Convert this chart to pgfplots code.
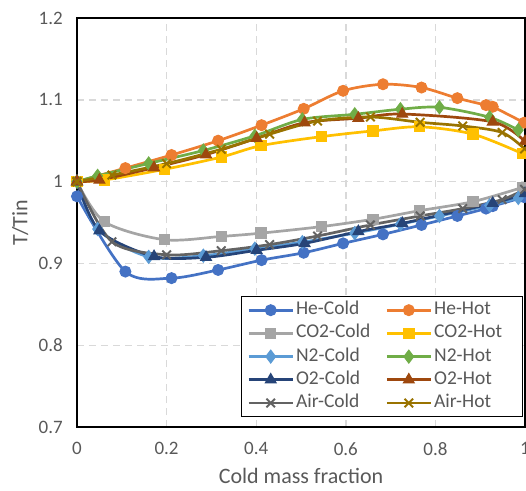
\documentclass[border=0pt]{standalone}
\usepackage{pgfplots}
\pgfplotsset{compat=1.18}
\usepackage{fontspec}
\setmainfont{Carlito}
\definecolor{heC}{HTML}{4472C4}
\definecolor{heH}{HTML}{ED7D31}
\definecolor{coC}{HTML}{A5A5A5}
\definecolor{coH}{HTML}{FFC000}
\definecolor{nC}{HTML}{5B9BD5}
\definecolor{nH}{HTML}{70AD47}
\definecolor{oC}{HTML}{264478}
\definecolor{oH}{HTML}{9E480E}
\definecolor{aC}{HTML}{636363}
\definecolor{aH}{HTML}{997300}
\definecolor{txt}{HTML}{595959}
\definecolor{gridc}{HTML}{D9D9D9}
\pgfplotsset{
  ser/.style={color=#1, line width=2.7pt, smooth, tension=0.5, mark options={solid, fill=#1, draw=#1, line width=1pt}},
}
\begin{document}
\begin{tikzpicture}
\path[use as bounding box] (-77pt,-63pt) rectangle (449pt,427pt);
\begin{axis}[
  at={(0pt,0pt)}, anchor=south west,
  scale only axis, width=448pt, height=409pt,
  xmin=0, xmax=1, ymin=0.7, ymax=1.2,
  xtick={0,0.2,0.4,0.6,0.8,1},
  ytick={0.7,0.8,0.9,1,1.1,1.2},
  major tick length=0pt,
  clip=false,
  axis line style={line width=1.6pt, black},
  grid=major,
  major grid style={color=gridc, line width=1.4pt, dash pattern=on 7pt off 5pt},
  /pgf/number format/assume math mode=true,
  tick label style={font=\fontsize{19}{22}\selectfont, color=txt},
  xticklabel style={anchor=north, inner sep=0pt, yshift=-15pt},
  yticklabel style={anchor=east, inner sep=0pt, xshift=-14pt},
  xlabel={Cold mass fraction},
  ylabel={T/Tin},
  label style={font=\fontsize{22}{26}\selectfont, color=txt},
  xlabel style={at={(axis description cs:0.5,-0.12)}, anchor=center},
  ylabel style={at={(axis description cs:-0.127,0.5)}, anchor=center},
  legend columns=2,
  legend cell align=left,
  legend image code/.code={\draw[mark repeat=2,mark phase=2] plot coordinates {(0pt,0pt) (22pt,0pt) (44pt,0pt)};},
  legend style={at={(rel axis cs:0.995,0.024)}, anchor=south east,
    draw=black, line width=1.2pt, fill=white,
    font=\fontsize{19.5}{22}\selectfont, text=txt,
    inner xsep=6pt, inner ysep=2pt,
    /tikz/every even column/.append style={column sep=13pt},
    nodes={inner xsep=2pt, inner ysep=3.1pt, text height=13pt, text depth=4pt}},
]
\addplot[ser=heC, mark=*, mark size=5.5pt] coordinates {
(0,0.982) (0.108,0.890) (0.211,0.882) (0.315,0.892) (0.412,0.904) (0.506,0.913) (0.594,0.9245) (0.683,0.9355) (0.769,0.947) (0.849,0.958) (0.913,0.967) (0.928,0.970) (0.998,0.981)};
\addlegendentry{He-Cold}
\addplot[ser=heH, mark=*, mark size=5.5pt] coordinates {
(0,1.0) (0.108,1.0165) (0.211,1.0325) (0.315,1.05) (0.412,1.069) (0.506,1.089) (0.594,1.111) (0.683,1.119) (0.769,1.115) (0.849,1.102) (0.913,1.0935) (0.928,1.0915) (0.998,1.072)};
\addlegendentry{\makebox[80pt][l]{He-Hot}}
\addplot[ser=coC, mark=square*, mark size=5.2pt] coordinates {
(0,1.0) (0.061,0.951) (0.195,0.929) (0.322,0.933) (0.411,0.937) (0.546,0.945) (0.661,0.954) (0.765,0.9645) (0.884,0.9755) (0.995,0.993)};
\addlegendentry{CO2-Cold}
\addplot[ser=coH, mark=square*, mark size=5.2pt] coordinates {
(0,1.0) (0.061,1.002) (0.195,1.015) (0.322,1.030) (0.411,1.044) (0.546,1.055) (0.661,1.062) (0.765,1.067) (0.884,1.058) (0.995,1.034)};
\addlegendentry{CO2-Hot}
\addplot[ser=nC, mark=diamond*, mark size=6.5pt] coordinates {
(0,1.0) (0.046,0.942) (0.16,0.908) (0.282,0.9095) (0.397,0.918) (0.503,0.926) (0.62,0.937) (0.722,0.948) (0.809,0.958) (0.921,0.971) (0.985,0.980)};
\addlegendentry{N2-Cold}
\addplot[ser=nH, mark=diamond*, mark size=6.5pt] coordinates {
(0,1.0) (0.046,1.007) (0.16,1.0222) (0.282,1.038) (0.397,1.056) (0.503,1.076) (0.62,1.0823) (0.722,1.0885) (0.809,1.0908) (0.921,1.0786) (0.985,1.063)};
\addlegendentry{N2-Hot}
\addplot[ser=oC, mark=triangle*, mark size=6.3pt] coordinates {
(0,1.0) (0.05,0.940) (0.172,0.9085) (0.288,0.9075) (0.401,0.916) (0.508,0.9245) (0.628,0.939) (0.726,0.949) (0.928,0.9735) (1.0,0.9855)};
\addlegendentry{O2-Cold}
\addplot[ser=oH, mark=triangle*, mark size=6.3pt] coordinates {
(0,1.0) (0.05,1.002) (0.172,1.017) (0.288,1.033) (0.401,1.053) (0.508,1.072) (0.628,1.0775) (0.726,1.0826) (0.928,1.073) (1.0,1.049)};
\addlegendentry{O2-Hot}
\addplot[ser=aC, mark=x, mark size=6pt, mark options={line width=2pt}] coordinates {
(0,1.0) (0.078,0.9265) (0.2,0.9105) (0.322,0.9155) (0.43,0.923) (0.537,0.9335) (0.655,0.947) (0.766,0.958) (0.861,0.967) (0.949,0.978) (0.999,0.9905)};
\addlegendentry{Air-Cold}
\addplot[ser=aH, mark=x, mark size=6pt, mark options={line width=2pt}] coordinates {
(0,1.0) (0.078,1.008) (0.2,1.022) (0.322,1.0395) (0.43,1.058) (0.537,1.074) (0.655,1.079) (0.766,1.0725) (0.861,1.068) (0.949,1.06) (0.999,1.04)};
\addlegendentry{Air-Hot}
\end{axis}
\end{tikzpicture}
\end{document}
